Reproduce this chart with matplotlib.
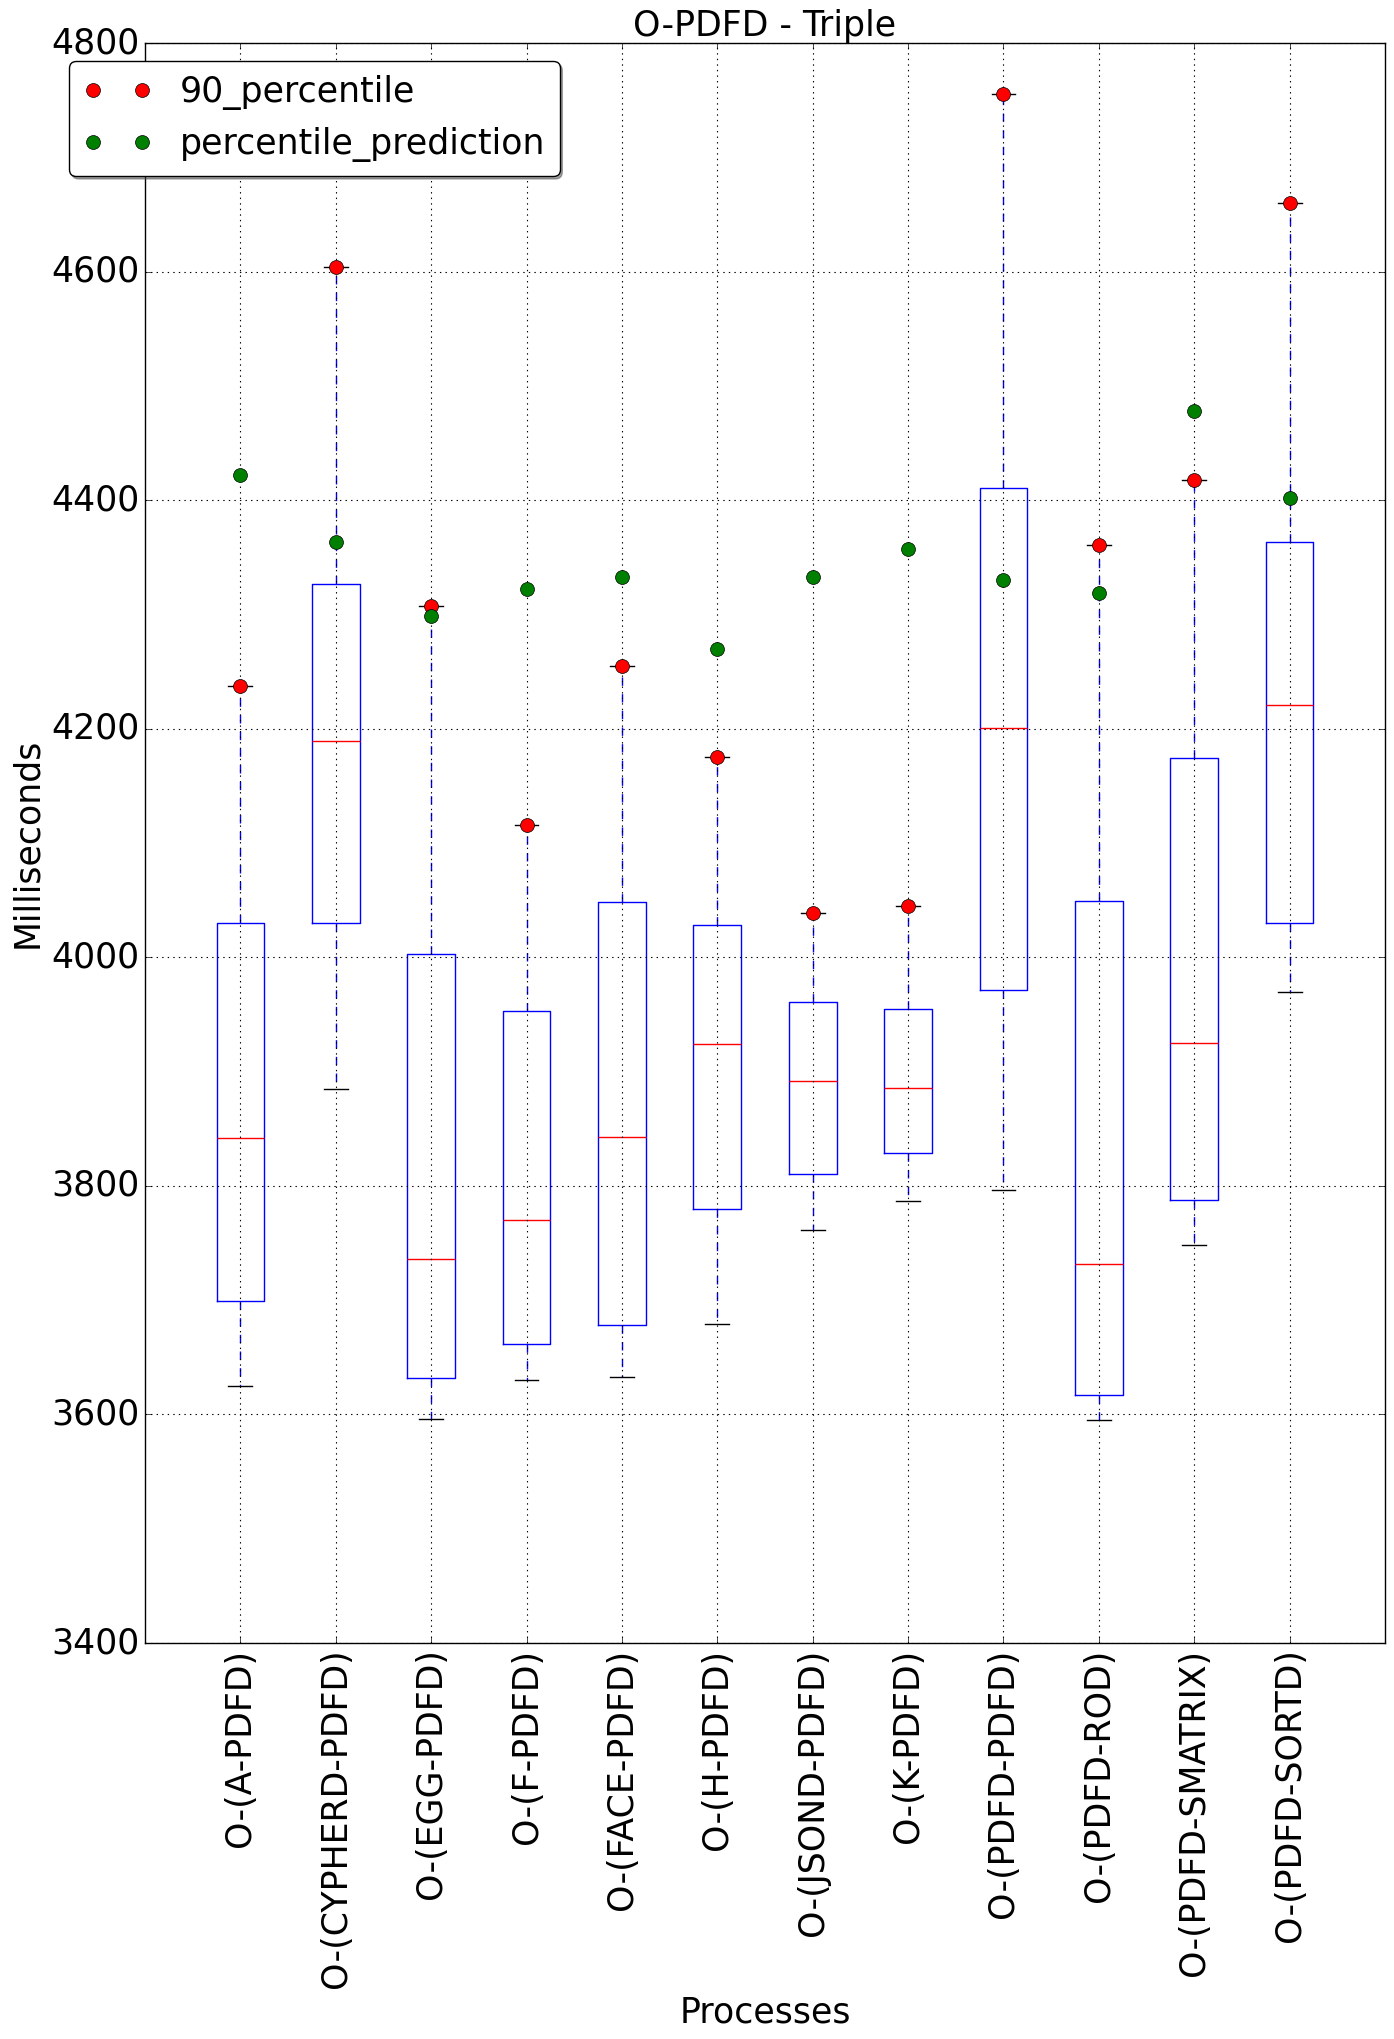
import matplotlib
matplotlib.use("Agg")
import matplotlib.pyplot as plt

plt.style.use("classic")

categories = ["O-(A-PDFD)", "O-(CYPHERD-PDFD)", "O-(EGG-PDFD)", "O-(F-PDFD)",
              "O-(FACE-PDFD)", "O-(H-PDFD)", "O-(JSOND-PDFD)", "O-(K-PDFD)",
              "O-(PDFD-PDFD)", "O-(PDFD-ROD)", "O-(PDFD-SMATRIX)", "O-(PDFD-SORTD)"]
whislo = [3625, 3885, 3596, 3630, 3633, 3679, 3761, 3787, 3796, 3595, 3748, 3970]
q1 = [3699, 4030, 3632, 3662, 3678, 3780, 3810, 3829, 3971, 3617, 3788, 4030]
med = [3842, 4189, 3736, 3770, 3843, 3924, 3892, 3886, 4201, 3732, 3925, 4221]
q3 = [4030, 4327, 4003, 3953, 4048, 4028, 3961, 3955, 4411, 4049, 4174, 4363]
whishi = [4237, 4604, 4307, 4116, 4255, 4175, 4039, 4045, 4755, 4361, 4418, 4660]
p90 = [4237, 4604, 4307, 4116, 4255, 4175, 4039, 4045, 4755, 4361, 4418, 4660]
prediction = [4422, 4363, 4299, 4322, 4333, 4270, 4333, 4357, 4330, 4319, 4478, 4402]

FS = 25
fig = plt.figure(figsize=(13.94, 20.39), dpi=100, facecolor="white")
ax = fig.add_axes([145 / 1394, 1 - 1643 / 2039, 1240 / 1394, 1600 / 2039])
ax.set_facecolor("white")

stats = []
for i in range(len(categories)):
    stats.append(dict(med=med[i], q1=q1[i], q3=q3[i], whislo=whislo[i],
                      whishi=whishi[i], fliers=[], label=categories[i]))
positions = list(range(1, len(categories) + 1))
ax.bxp(stats, positions=positions, widths=0.5, showfliers=False,
       boxprops=dict(color="b", linewidth=1.0),
       whiskerprops=dict(color="b", linestyle="--", linewidth=1.0),
       capprops=dict(color="k", linewidth=1.0),
       medianprops=dict(color="r", linewidth=1.0))

ax.plot(positions, p90, "o", color="red", markeredgecolor="k", markeredgewidth=0.5,
        markersize=10, label="90_percentile", zorder=5)
ax.plot(positions, prediction, "o", color="green", markeredgecolor="k",
        markeredgewidth=0.5, markersize=10, label="percentile_prediction", zorder=5)

ax.set_xlim(0, 13)
ax.set_ylim(3400, 4800)
ax.set_yticks(range(3400, 4801, 200))
ax.set_xticks(positions)
ax.set_xticklabels(categories, rotation=90, fontsize=FS)
ax.tick_params(axis="y", labelsize=FS)
ax.grid(True, color="k", linestyle=":", linewidth=0.8)
ax.set_axisbelow(False)
ax.set_title("O-PDFD - Triple", fontsize=FS)
ax.set_xlabel("Processes", fontsize=FS)
ax.set_ylabel("Milliseconds", fontsize=FS)

leg = ax.legend(loc="upper left", bbox_to_anchor=(69 / 1394, 1 - 61 / 2039),
                bbox_transform=fig.transFigure, borderaxespad=0, numpoints=2,
                fancybox=True, shadow=True, fontsize=FS)

fig.savefig("out.png", dpi=100, facecolor="white")
